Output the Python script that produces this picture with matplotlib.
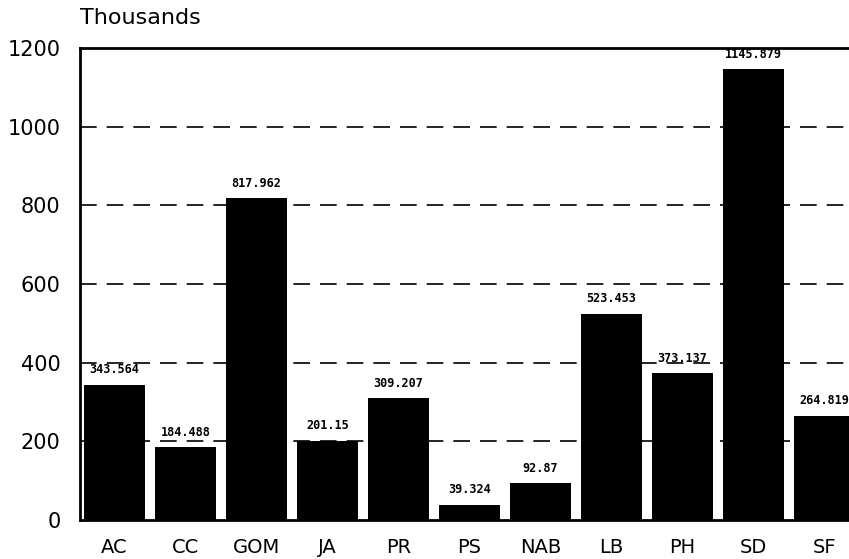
import matplotlib.pyplot as plt
import numpy as np

categories = ['AC', 'CC', 'GOM', 'JA', 'PR', 'PS', 'NAB', 'LB', 'PH', 'SD', 'SF']
values = [343.564, 184.488, 817.962, 201.15, 309.207, 39.324, 92.87,
          523.453, 373.137, 1145.879, 264.819]
value_labels = ['343.564', '184.488', '817.962', '201.15', '309.207', '39.324',
                '92.87', '523.453', '373.137', '1145.879', '264.819']
yticks = [0, 200, 400, 600, 800, 1000, 1200]

fig = plt.figure(figsize=(8.49, 5.59), dpi=100)
ax = fig.add_axes([0.0942, 0.0698, 0.9058, 0.8443])

x = np.arange(len(categories))
ax.bar(x, values, width=0.86, color='black', zorder=3)

# value labels above each bar
for xi, v, lab in zip(x, values, value_labels):
    ax.text(xi, v + 22, lab, ha='center', va='bottom',
            fontsize=8.5, family='DejaVu Sans Mono', weight='bold', zorder=4)

# dashed gridlines
for y in yticks[1:-1]:
    ax.axhline(y, color='black', linestyle=(0, (10, 6)), linewidth=1.2, zorder=1)

ax.set_xlim(-0.486, 10.345)
ax.set_ylim(0, 1200)
ax.set_xticks(x)
ax.set_xticklabels(categories, fontsize=14)
ax.set_yticks(yticks)
ax.set_yticklabels([str(t) for t in yticks], fontsize=15)
ax.tick_params(axis='both', length=0)
ax.tick_params(axis='y', pad=14)
ax.tick_params(axis='x', pad=13)

for side in ['left', 'bottom', 'top']:
    ax.spines[side].set_linewidth(2)
    ax.spines[side].set_color('black')
ax.spines['right'].set_visible(False)

fig.text(0.094, 0.968, 'Thousands', fontsize=16, ha='left', va='center')

fig.savefig('out.png', dpi=100)
